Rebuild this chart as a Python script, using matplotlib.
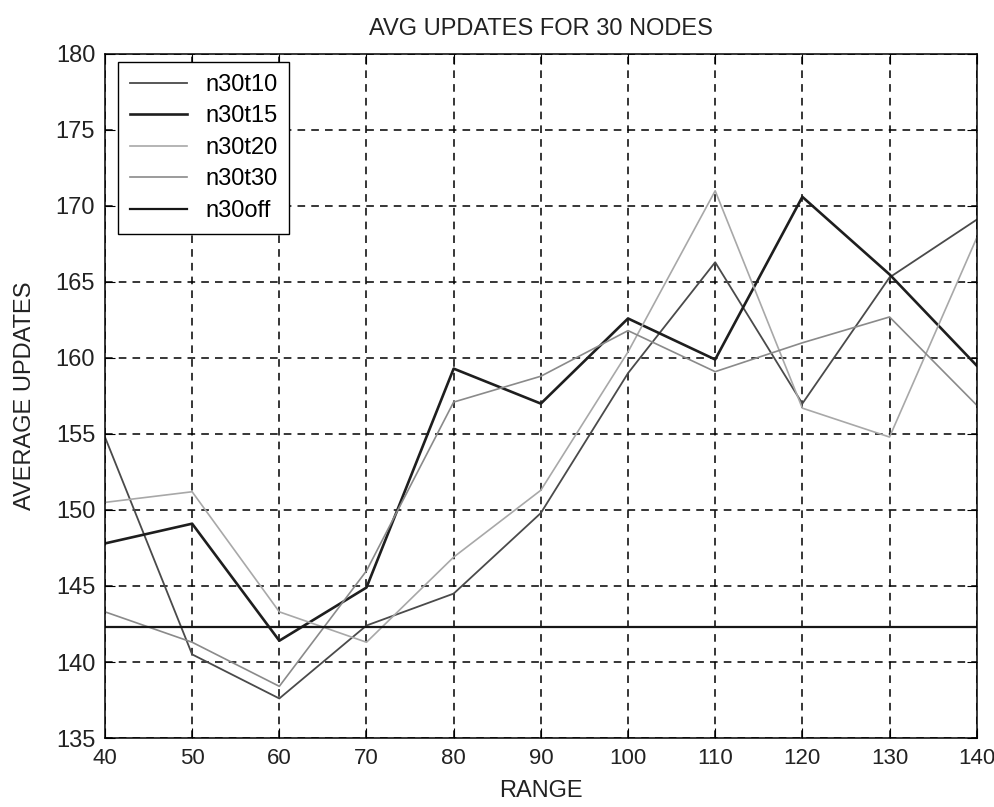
import numpy as np
import matplotlib
matplotlib.use('Agg')
import matplotlib.pyplot as plt

# data
rng = [40, 50, 60, 70, 80, 90, 100, 110, 120, 130, 140]
n30t10 = [154.8, 140.5, 137.6, 142.4, 144.5, 149.8, 159.0, 166.3, 157.0, 165.3, 169.1]
n30t15 = [147.8, 149.1, 141.4, 144.9, 159.3, 157.0, 162.6, 159.9, 170.6, 165.5, 159.5]
n30t20 = [150.5, 151.2, 143.3, 141.3, 146.9, 151.3, 160.4, 171.0, 156.7, 154.8, 167.9]
n30t30 = [143.3, 141.3, 138.4, 146.0, 157.1, 158.8, 161.8, 159.1, 161.0, 162.7, 156.9]
n30off = [142.3] * len(rng)

plt.rcParams['font.family'] = ['Liberation Sans', 'DejaVu Sans']

fig = plt.figure(figsize=(9.94, 8.07), dpi=100)
ax = fig.add_axes([0.1056, 0.0855, 0.877, 0.8476])

ax.plot(rng, n30t10, color='#4a4a4a', lw=1.3, label='n30t10')
ax.plot(rng, n30t15, color='#1e1e1e', lw=1.9, label='n30t15')
ax.plot(rng, n30t20, color='#a8a8a8', lw=1.2, label='n30t20')
ax.plot(rng, n30t30, color='#8a8a8a', lw=1.2, label='n30t30')
ax.plot(rng, n30off, color='#161616', lw=1.6, label='n30off')

ax.set_xlim(40, 140)
ax.set_ylim(135, 180)
ax.set_xticks(np.arange(40, 141, 10))
ax.set_yticks(np.arange(135, 181, 5))
ax.grid(True, color='black', linestyle=(0, (5, 4)), lw=1.1)
ax.tick_params(direction='in', top=True, right=True, length=7, labelsize=17, pad=7,
               labelcolor='#222222')
ax.tick_params(axis='x', labelsize=16)
for s in ax.spines.values():
    s.set_linewidth(1.1)

ax.set_title('AVG UPDATES FOR 30 NODES', fontsize=17, pad=14, color='#222222')
ax.set_xlabel('RANGE', fontsize=17, labelpad=8, color='#222222')
ax.set_ylabel('AVERAGE UPDATES', fontsize=17, labelpad=14, color='#222222')

leg = ax.legend(loc='upper left', fontsize=17, frameon=True, fancybox=False,
                edgecolor='black', framealpha=1, handlelength=2.4,
                borderpad=0.5, labelspacing=0.4, borderaxespad=0,
                bbox_to_anchor=(0.015, 0.988))
leg.get_frame().set_linewidth(1.0)

plt.savefig('out.png', dpi=100)
